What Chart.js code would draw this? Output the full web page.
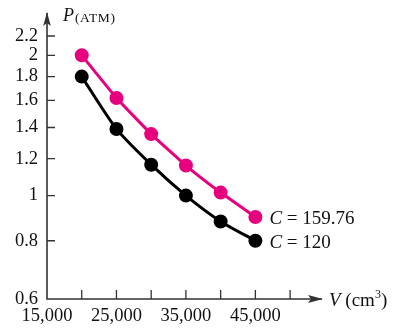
<!DOCTYPE html>
<html>
<head>
<meta charset="utf-8">
<script src="https://cdn.jsdelivr.net/npm/chart.js@4/dist/chart.umd.min.js"></script>
<style>
  html, body { margin: 0; padding: 0; background: #fff; }
  #wrap { width: 394px; height: 330px; position: relative; }
</style>
</head>
<body>
<div id="wrap"><canvas id="pvChart"></canvas></div>
<script>
// Volume values (cm^3) and pressures
const volumes = [20000, 25000, 30000, 35000, 40000, 45000];
const pressureC120 = [1.8, 1.39, 1.165, 1.0, 0.88, 0.8];
const pressureC15976 = [2.0, 1.62, 1.355, 1.16, 1.015, 0.9];
const seriesNames = ['C = 159.76', 'C = 120'];

const xTicks = [15000, 20000, 25000, 30000, 35000, 40000, 45000, 50000];
const xLabelled = [15000, 25000, 35000, 45000];
const yTicks = [0.6, 0.8, 1, 1.2, 1.4, 1.6, 1.8, 2, 2.2];

const PINK = '#e6007e';
const AXIS = '#333';
const SERIF = '"Liberation Serif", "DejaVu Serif", serif';

function toPoints(ys) {
  return volumes.map((v, i) => ({ x: v, y: ys[i] }));
}

// axes with arrows, inward tick marks, axis titles and curve labels
const axesPlugin = {
  id: 'axesPlugin',
  afterDraw(chart) {
    const ctx = chart.ctx;
    const xs = chart.scales.x, ys = chart.scales.y;
    const x0 = chart.chartArea.left;
    const y0 = chart.chartArea.bottom;
    ctx.save();
    ctx.strokeStyle = AXIS;
    ctx.fillStyle = AXIS;
    ctx.lineWidth = 1.6;

    // axis lines
    ctx.beginPath();
    ctx.moveTo(x0, 13);
    ctx.lineTo(x0, y0);
    ctx.lineTo(chart.chartArea.right + 18, y0);
    ctx.stroke();

    // arrowheads
    const xt = chart.chartArea.right + 19;
    ctx.beginPath();
    ctx.moveTo(xt, y0);
    ctx.lineTo(xt - 15, y0 - 4);
    ctx.lineTo(xt - 12, y0);
    ctx.lineTo(xt - 15, y0 + 4);
    ctx.closePath();
    ctx.fill();
    ctx.beginPath();
    ctx.moveTo(x0, 12);
    ctx.lineTo(x0 - 3.8, 26);
    ctx.lineTo(x0, 23);
    ctx.lineTo(x0 + 3.8, 26);
    ctx.closePath();
    ctx.fill();

    // inward tick marks
    ctx.lineWidth = 1.3;
    ctx.beginPath();
    xTicks.forEach(v => {
      if (v === xTicks[0]) return;
      const px = xs.getPixelForValue(v);
      ctx.moveTo(px, y0);
      ctx.lineTo(px, y0 - 9);
    });
    yTicks.forEach(v => {
      if (v === yTicks[0]) return;
      const py = ys.getPixelForValue(v);
      ctx.moveTo(x0, py);
      ctx.lineTo(x0 + 8, py);
    });
    ctx.stroke();

    // axis titles
    ctx.fillStyle = '#111';
    ctx.textBaseline = 'alphabetic';
    ctx.textAlign = 'left';
    ctx.font = 'italic 18px ' + SERIF;
    ctx.fillText('P', x0 + 16, 21);
    ctx.font = '13.5px ' + SERIF;
    ctx.letterSpacing = '0.6px';
    ctx.fillText('(ATM)', x0 + 28, 21.5);
    ctx.letterSpacing = '0px';

    let vx = xt + 6;
    ctx.font = 'italic 19px ' + SERIF;
    ctx.fillText('V', vx, y0 + 7);
    vx += ctx.measureText('V').width;
    ctx.font = '19px ' + SERIF;
    ctx.fillText(' (cm', vx, y0 + 7);
    vx += ctx.measureText(' (cm').width;
    ctx.font = '12px ' + SERIF;
    ctx.fillText('3', vx, y0 - 1);
    vx += ctx.measureText('3').width;
    ctx.font = '19px ' + SERIF;
    ctx.fillText(')', vx, y0 + 7);

    // curve labels next to the last point of each series
    chart.data.datasets.forEach(ds => {
      const last = ds.data[ds.data.length - 1];
      let lx = xs.getPixelForValue(last.x) + 14;
      const ly = ys.getPixelForValue(last.y) + 7;
      ctx.font = 'italic 19px ' + SERIF;
      ctx.fillText('C', lx, ly);
      lx += ctx.measureText('C').width;
      ctx.font = '19px ' + SERIF;
      ctx.fillText(ds.label.slice(1), lx, ly);
    });
    ctx.restore();
  }
};

new Chart(document.getElementById('pvChart'), {
  type: 'line',
  data: {
    datasets: [
      {
        label: seriesNames[0],
        data: toPoints(pressureC15976),
        borderColor: PINK,
        backgroundColor: PINK,
        borderWidth: 3,
        pointRadius: 5.5,
        pointHoverRadius: 5.5,
        tension: 0.1
      },
      {
        label: seriesNames[1],
        data: toPoints(pressureC120),
        borderColor: '#000',
        backgroundColor: '#000',
        borderWidth: 3,
        pointRadius: 5.5,
        pointHoverRadius: 5.5,
        tension: 0.25
      }
    ]
  },
  options: {
    responsive: true,
    maintainAspectRatio: false,
    animation: false,
    events: [],
    layout: { padding: { left: 0, top: 36, right: 90, bottom: 0 } },
    plugins: {
      legend: { display: false },
      tooltip: { enabled: false }
    },
    scales: {
      x: {
        type: 'linear',
        min: 15000,
        max: 52000,
        grid: { display: false, drawTicks: false },
        border: { display: false },
        afterBuildTicks: s => { s.ticks = xTicks.map(v => ({ value: v })); },
        afterFit: s => { s.height = 31; },
        ticks: {
          autoSkip: false,
          maxRotation: 0,
          padding: 6,
          color: '#111',
          font: { family: SERIF, size: 18.5 },
          callback: v => xLabelled.includes(v) ? v.toLocaleString('en-US') : ''
        }
      },
      y: {
        type: 'logarithmic',
        min: 0.6,
        max: 2.2,
        grid: { display: false, drawTicks: false },
        border: { display: false },
        afterBuildTicks: s => { s.ticks = yTicks.map(v => ({ value: v })); },
        afterFit: s => { s.width = 47; },
        ticks: {
          autoSkip: false,
          padding: 9,
          color: '#111',
          font: { family: SERIF, size: 18.5 },
          callback: v => String(v)
        }
      }
    }
  },
  plugins: [axesPlugin]
});
</script>
</body>
</html>
